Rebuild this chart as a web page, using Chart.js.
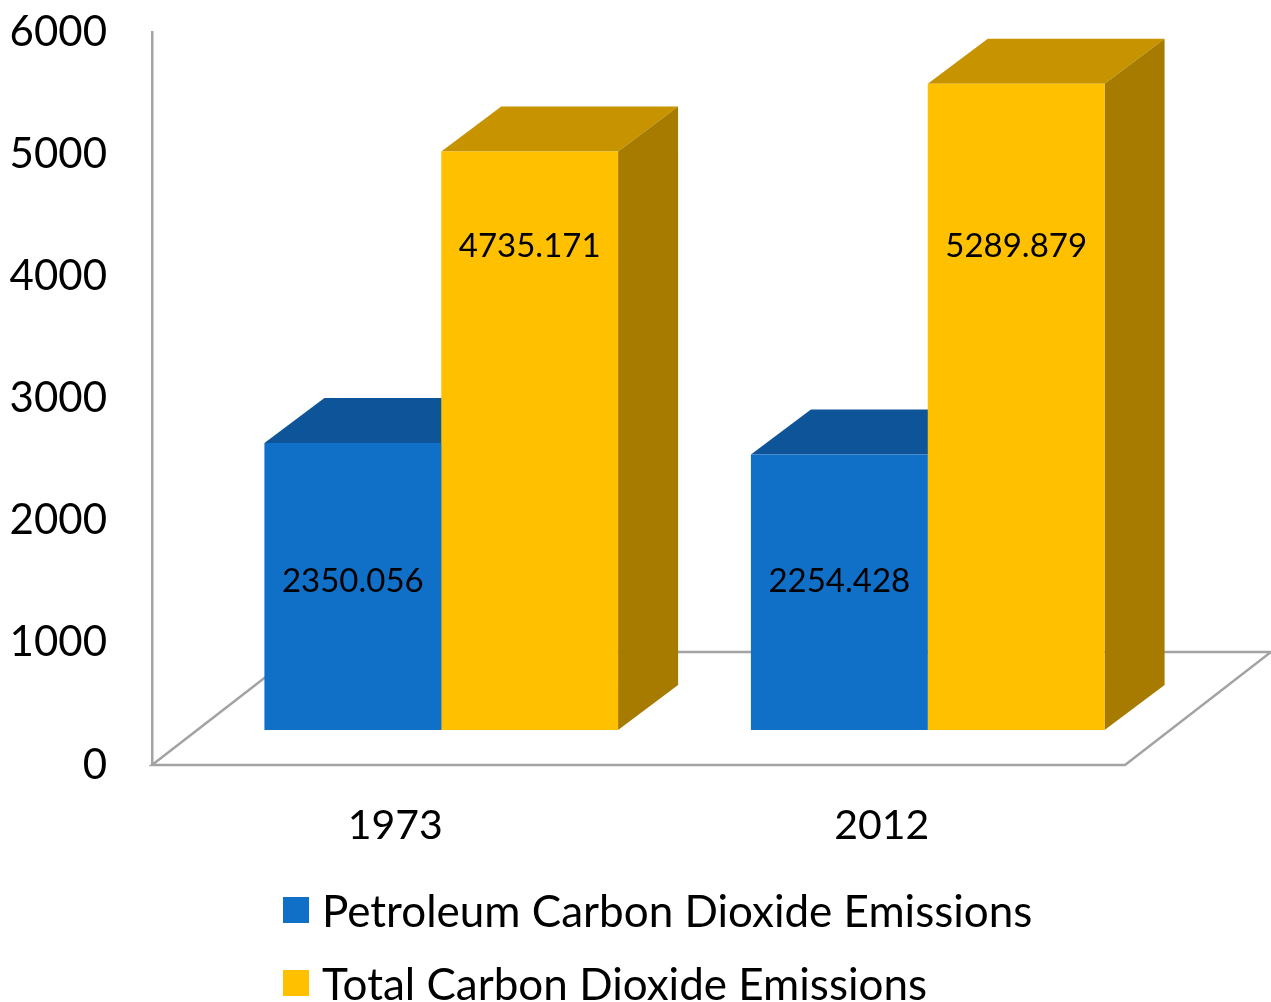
<!DOCTYPE html>
<html>
<head>
<meta charset="utf-8">
<title>Carbon Dioxide Emissions</title>
<script src="https://cdn.jsdelivr.net/npm/chart.js@4/dist/chart.umd.min.js"></script>
<style>
    html, body { margin: 0; padding: 0; overflow: hidden; background: #fff; }
    #wrap { position: relative; width: 1271px; height: 1002px; }
    #legend {
        position: absolute;
        left: 283px;
        top: 886px;
        font-family: Lato, sans-serif;
        font-size: 44px;
        color: #000;
    }
    .item { display: flex; align-items: center; height: 48px; margin-bottom: 25px; white-space: nowrap; }
    .swatch { width: 26px; height: 26px; margin-right: 13px; flex: none; }
</style>
</head>
<body>
<div id="wrap">
    <canvas id="chart"></canvas>
    <div id="legend"></div>
</div>
<script>
const years = ["1973", "2012"];
const petroleumEmissions = [2350.056, 2254.428];
const totalEmissions = [4735.171, 5289.879];
const seriesNames = ["Petroleum Carbon Dioxide Emissions", "Total Carbon Dioxide Emissions"];
const yMax = 6000;
const yStep = 1000;

// 3D look: each box is pushed back on the floor and extruded up/right
const SHIFT = { dx: 46, dy: 35 };
const DEPTH = { dx: 60, dy: 45 };
const FLOOR = { dx: 146, dy: 113 };
const LINE = "#a3a3a3";

function fillPoly(ctx, pts, color) {
    ctx.fillStyle = color;
    ctx.beginPath();
    ctx.moveTo(pts[0][0], pts[0][1]);
    for (let i = 1; i < pts.length; i++) ctx.lineTo(pts[i][0], pts[i][1]);
    ctx.closePath();
    ctx.fill();
}

const box3d = {
    id: "box3d",
    beforeDatasetsDraw(chart) {
        const { ctx, chartArea: a } = chart;

        // floor outline
        ctx.save();
        ctx.strokeStyle = LINE;
        ctx.lineWidth = 2.5;
        ctx.beginPath();
        ctx.moveTo(a.left, a.bottom);
        ctx.lineTo(a.left + FLOOR.dx, a.bottom - FLOOR.dy);
        ctx.lineTo(a.right + FLOOR.dx, a.bottom - FLOOR.dy);
        ctx.lineTo(a.right, a.bottom);
        ctx.closePath();
        ctx.stroke();
        ctx.restore();

        // everything from here to afterDatasetsDraw is shifted back
        ctx.save();
        ctx.translate(SHIFT.dx, -SHIFT.dy);

        // tops and sides first; the front faces drawn by Chart.js cover what they hide
        chart.data.datasets.forEach((ds, i) => {
            chart.getDatasetMeta(i).data.forEach(bar => {
                const { x, y, base, width } = bar.getProps(["x", "y", "base", "width"], true);
                const x0 = x - width / 2;
                const x1 = x + width / 2;

                fillPoly(ctx, [
                    [x0, y], [x1, y],
                    [x1 + DEPTH.dx, y - DEPTH.dy], [x0 + DEPTH.dx, y - DEPTH.dy]
                ], ds.topColor);

                fillPoly(ctx, [
                    [x1, y], [x1 + DEPTH.dx, y - DEPTH.dy],
                    [x1 + DEPTH.dx, base - DEPTH.dy], [x1, base]
                ], ds.sideColor);
            });
        });
    },
    afterDatasetsDraw(chart) {
        const ctx = chart.ctx;
        ctx.restore();

        // value labels on the front faces
        const yScale = chart.scales.y;
        ctx.save();
        ctx.font = "33px Lato, sans-serif";
        ctx.fillStyle = "#000";
        ctx.textAlign = "center";
        ctx.textBaseline = "middle";
        chart.data.datasets.forEach((ds, i) => {
            const ly = yScale.getPixelForValue(ds.labelAt) - SHIFT.dy;
            chart.getDatasetMeta(i).data.forEach((bar, j) => {
                ctx.fillText(ds.data[j].toFixed(3), bar.x + SHIFT.dx, ly);
            });
        });
        ctx.restore();
    }
};

const datasets = [
    {
        label: seriesNames[0],
        data: petroleumEmissions,
        backgroundColor: "#1070c8",
        topColor: "#0e5499",
        sideColor: "#0b4a86",
        labelAt: 1220
    },
    {
        label: seriesNames[1],
        data: totalEmissions,
        backgroundColor: "#ffc000",
        topColor: "#c79400",
        sideColor: "#a67b00",
        labelAt: 3960
    }
];

const canvas = document.getElementById("chart");
canvas.width = 1271;
canvas.height = 1002;

new Chart(canvas, {
    type: "bar",
    data: {
        labels: years,
        datasets: datasets.map(d => ({ ...d, clip: false, borderWidth: 0 }))
    },
    options: {
        responsive: false,
        animation: false,
        layout: { padding: { left: 10, right: 146, top: 32, bottom: 137 } },
        datasets: { bar: { barPercentage: 1, categoryPercentage: 0.727 } },
        plugins: {
            legend: { display: false },
            tooltip: { enabled: false }
        },
        scales: {
            x: {
                grid: { display: false, drawTicks: false },
                border: { display: false },
                ticks: { color: "#000", padding: 36, font: { family: "Lato", size: 41 } },
                afterFit: s => { s.height = 100; }
            },
            y: {
                min: 0,
                max: yMax,
                ticks: {
                    stepSize: yStep,
                    color: "#000",
                    padding: 45,
                    font: { family: "Lato", size: 42 },
                    callback: v => String(v)
                },
                grid: { display: false, drawTicks: false },
                border: { display: true, color: LINE, width: 2.5 },
                afterFit: s => {
                    s.width = 142;
                    s.paddingTop = 0;
                    s.paddingBottom = 0;
                }
            }
        }
    },
    plugins: [box3d]
});

// legend, one series per row
const legend = document.getElementById("legend");
datasets.forEach(d => {
    const item = document.createElement("div");
    item.className = "item";
    const sw = document.createElement("span");
    sw.className = "swatch";
    sw.style.background = d.backgroundColor;
    const txt = document.createElement("span");
    txt.textContent = d.label;
    item.appendChild(sw);
    item.appendChild(txt);
    legend.appendChild(item);
});
</script>
</body>
</html>
